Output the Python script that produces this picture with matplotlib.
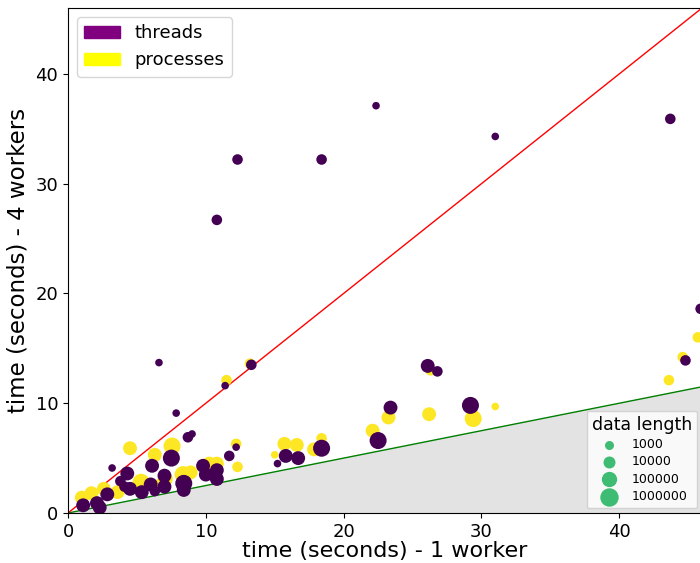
import matplotlib
matplotlib.use("Agg")
import matplotlib.pyplot as plt
import matplotlib.patches as mpatches
import numpy as np

# ---- data ----
thread_x = [22.35, 31.0, 43.7, 12.3, 18.4, 10.8, 6.6, 7.85, 9.0, 8.7, 11.4, 13.3, 12.2, 11.7,
            26.1, 26.8, 23.4, 29.2, 44.8, 45.9, 22.5, 18.4, 16.7, 15.8, 15.2, 3.2, 7.5, 6.1,
            4.3, 7.0, 7.0, 6.0, 5.35, 8.4, 8.4, 9.8, 10.0, 10.8, 10.8, 4.5, 3.8, 2.85, 2.1,
            1.1, 2.3, 4.1, 6.3]
thread_y = [37.1, 34.3, 35.9, 32.2, 32.2, 26.7, 13.7, 9.1, 7.2, 6.9, 11.6, 13.5, 6.0, 5.2,
            13.4, 12.9, 9.6, 9.8, 13.9, 18.6, 6.6, 5.9, 5.0, 5.2, 4.5, 4.1, 5.0, 4.3,
            3.6, 3.4, 2.4, 2.6, 1.9, 2.7, 2.1, 4.3, 3.5, 3.9, 3.1, 2.2, 2.9, 1.7, 0.9,
            0.7, 0.5, 2.4, 2.0]
thread_n = [1000, 1000, 10000, 10000, 10000, 10000, 1000, 1000, 1000, 10000, 1000, 10000, 1000, 10000,
            100000, 10000, 100000, 1000000, 10000, 10000, 1000000, 1000000, 100000, 100000, 1000, 1000, 1000000, 100000,
            100000, 100000, 100000, 100000, 100000, 1000000, 100000, 100000, 100000, 100000, 100000, 100000, 10000, 100000, 100000,
            100000, 100000, 10000, 10000]

proc_x = [11.5, 13.2, 12.2, 12.3, 15.0, 15.7, 16.6, 18.4, 17.85, 4.5, 6.3, 7.55, 7.1, 6.8,
          5.3, 8.35, 8.9, 10.25, 10.8, 2.6, 1.7, 1.0, 3.6, 26.3, 23.25, 26.2, 29.4, 31.0,
          22.1, 45.7, 44.6, 43.6]
proc_y = [12.1, 13.6, 6.3, 4.2, 5.3, 6.3, 6.2, 6.8, 5.8, 5.9, 5.3, 6.1, 3.1, 2.6,
          2.8, 3.5, 3.7, 4.5, 4.5, 2.2, 1.8, 1.4, 1.9, 13.0, 8.7, 9.0, 8.6, 9.7,
          7.5, 16.0, 14.2, 12.1]
proc_n = [10000, 10000, 10000, 10000, 1000, 100000, 100000, 10000, 100000, 100000, 100000, 1000000, 100000, 100000,
          1000000, 1000000, 100000, 100000, 100000, 100000, 100000, 100000, 100000, 10000, 100000, 100000, 1000000, 1000,
          100000, 10000, 10000, 10000]

legend_lengths = [1000, 10000, 100000, 1000000]
size_map = {1000: 30, 10000: 58, 100000: 100, 1000000: 150}

PURPLE = "#440154"
YELLOW = "#fde725"

fig = plt.figure(figsize=(7.0, 5.63), dpi=100)
ax = fig.add_axes([68/700, 50/563, 634/700, 505/563])

xmax, ymax = 46, 46
xs = np.linspace(0, xmax, 50)
ax.fill_between(xs, 0, xs / 4, color="#e3e3e3", zorder=0)
ax.plot([0, xmax], [0, xmax / 4], color="green", lw=1, zorder=1)
ax.plot([0, 1], [0, 1], transform=ax.transAxes, color="red", lw=1, zorder=1)

ax.scatter(proc_x, proc_y, s=[size_map[n] for n in proc_n], color=YELLOW, linewidths=0, zorder=2)
ax.scatter(thread_x, thread_y, s=[size_map[n] for n in thread_n], color=PURPLE, linewidths=0, zorder=3)

ax.set_xlim(0, xmax)
ax.set_ylim(0, ymax)
ax.set_xticks([0, 10, 20, 30, 40])
ax.set_yticks([0, 10, 20, 30, 40])
ax.tick_params(labelsize=13)
ax.set_xlabel("time (seconds) - 1 worker", fontsize=16, labelpad=0)
ax.set_ylabel("time (seconds) - 4 workers", fontsize=16.5)

h1 = [mpatches.Patch(color="#800080", label="threads"),
      mpatches.Patch(color="#ffff00", label="processes")]
leg1 = ax.legend(handles=h1, loc="upper left", fontsize=13)
ax.add_artist(leg1)

h2 = [ax.scatter([], [], s=size_map[n], color="#3fbc73", label=str(n)) for n in legend_lengths]
ax.legend(handles=h2, loc="lower right", title="data length", fontsize=9,
          title_fontsize=12.5, borderaxespad=0.4, labelspacing=0.35)

fig.savefig("out.png", dpi=100)
